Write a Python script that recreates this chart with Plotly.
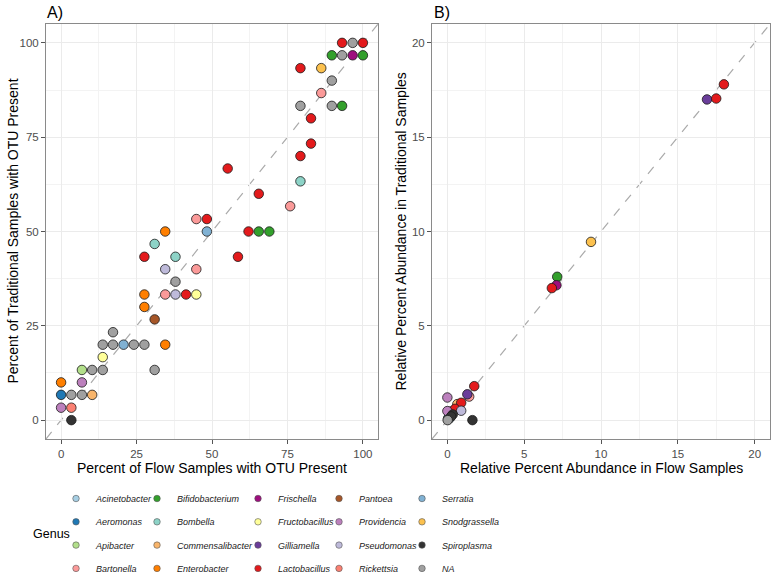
import plotly.graph_objects as go

# ---------------- data ----------------
genus_order = ["Acinetobacter", "Aeromonas", "Apibacter", "Bartonella",
               "Bifidobacterium", "Bombella", "Commensalibacter", "Enterobacter",
               "Frischella", "Fructobacillus", "Gilliamella", "Lactobacillus",
               "Pantoea", "Providencia", "Pseudomonas", "Rickettsia",
               "Serratia", "Snodgrassella", "Spiroplasma", "NA"]
genus_colors = ["#A6CEE3", "#1F78B4", "#B2DF8A", "#FB9A99",
                "#33A02C", "#8DD3C7", "#F9B56B", "#FF7F00",
                "#9E0E7E", "#FFFF99", "#6A3D9A", "#E31A1C",
                "#A65628", "#BC80BD", "#BEBADA", "#FB8072",
                "#80B1D3", "#FCC14E", "#333333", "#A0A0A0"]

# Panel A: percent of samples with OTU present
a_genus = ["Enterobacter", "Aeromonas", "NA", "NA", "Commensalibacter", "Providencia",
           "Rickettsia", "Spiroplasma", "Apibacter", "NA", "NA", "Providencia",
           "Fructobacillus", "NA", "NA", "Serratia", "NA", "NA", "Enterobacter", "NA",
           "NA", "Pantoea", "Enterobacter", "Enterobacter", "Bartonella", "Pseudomonas",
           "Lactobacillus", "Fructobacillus", "NA", "Pseudomonas", "Bartonella",
           "Lactobacillus", "Bombella", "Lactobacillus", "Bombella", "Enterobacter",
           "Serratia", "Lactobacillus", "Bifidobacterium", "Bifidobacterium",
           "Bartonella", "Lactobacillus", "Bartonella", "Lactobacillus", "Lactobacillus",
           "Bombella", "Lactobacillus", "Lactobacillus", "Lactobacillus", "NA", "NA",
           "Bifidobacterium", "Bartonella", "NA", "Lactobacillus", "Snodgrassella",
           "Bifidobacterium", "NA", "Frischella", "Bifidobacterium", "Lactobacillus",
           "NA", "Lactobacillus"]
a_flow = [0, 0, 3.4, 6.9, 10.3, 0,
          3.4, 3.4, 6.9, 10.3, 13.8, 6.9,
          13.8, 13.8, 17.2, 20.7, 24.1, 27.6, 34.5, 17.2,
          31.0, 31.0, 27.6, 27.6, 34.5, 37.9,
          41.4, 44.8, 37.9, 34.5, 44.8,
          27.6, 37.9, 58.6, 31.0, 34.5,
          48.3, 62.1, 65.5, 69.0,
          44.8, 48.3, 75.9, 55.2, 65.5,
          79.3, 79.3, 82.8, 82.8, 79.3, 89.7,
          93.1, 86.2, 89.7, 79.3, 86.2,
          89.7, 93.1, 96.6, 100, 93.1,
          96.6, 100]
a_trad = [10, 6.7, 6.7, 6.7, 6.7, 3.3,
          3.3, 0, 13.3, 13.3, 13.3, 10,
          16.7, 20, 20, 20, 20, 20, 20, 23.3,
          13.3, 26.7, 30, 33.3, 33.3, 33.3,
          33.3, 33.3, 36.7, 40, 40,
          43.3, 43.3, 43.3, 46.7, 50,
          50, 50, 50, 50,
          53.3, 53.3, 56.7, 66.7, 60,
          63.3, 70, 73.3, 80, 83.3, 83.3,
          83.3, 86.7, 90, 93.3, 93.3,
          96.7, 96.7, 96.7, 96.7, 100,
          100, 100]

# Panel B: relative percent abundance
b_genus = ["Gilliamella", "Lactobacillus", "Lactobacillus", "Snodgrassella",
           "Lactobacillus", "Frischella", "Bifidobacterium", "Lactobacillus",
           "Gilliamella", "Bartonella", "Providencia", "Commensalibacter",
           "Lactobacillus", "Lactobacillus", "Pseudomonas", "Providencia",
           "Bartonella", "Spiroplasma", "Spiroplasma", "Spiroplasma", "Bombella",
           "Aeromonas", "Serratia", "Acinetobacter", "NA"]
b_flow = [16.9, 17.5, 18.0, 9.35,
          6.8, 7.1, 7.15, 1.75,
          1.3, 1.42, 0.0, 0.65,
          0.9, 0.5, 0.9, 0.0,
          0.25, 1.63, 0.35, 0.25, 0.1,
          0.05, 0.15, 0.05, 0.02]
b_trad = [17.0, 17.05, 17.8, 9.45,
          7.0, 7.15, 7.6, 1.8,
          1.37, 1.25, 1.2, 0.85,
          0.92, 0.6, 0.5, 0.48,
          0.46, 0.0, 0.3, 0.2, 0.15,
          0.08, 0.1, 0.05, 0.0]

a_ticks = [0, 25, 50, 75, 100]
b_ticks = [0, 5, 10, 15, 20]
a_range = [-5, 105]
b_range = [-1, 21]

# ---------------- figure ----------------
W, H = 772, 574
FONT = "Liberation Sans, Arial, Helvetica, sans-serif"

fig = go.Figure()
color_of = dict(zip(genus_order, genus_colors))

def add_panel(genus_list, xs, ys, xa, ya):
    for g in genus_order:
        px = [x for gg, x in zip(genus_list, xs) if gg == g]
        py = [y for gg, y in zip(genus_list, ys) if gg == g]
        if not px:
            continue
        fig.add_trace(go.Scatter(
            x=px, y=py, mode="markers", xaxis=xa, yaxis=ya, showlegend=False,
            marker=dict(size=9.5, color=color_of[g], line=dict(color="#1a1a1a", width=0.8)),
            name=g, hoverinfo="x+y+name"))

add_panel(a_genus, a_flow, a_trad, "x", "y")
add_panel(b_genus, b_flow, b_trad, "x2", "y2")

# legend-only entries (5 columns, column-major)
for i, g in enumerate(genus_order):
    col = i // 4
    fig.add_trace(go.Scatter(
        x=[None], y=[None], mode="markers", xaxis="x", yaxis="y",
        name=g, legend="legend" if col == 0 else f"legend{col + 1}",
        legendgroup=g, showlegend=True,
        marker=dict(size=6.5, color=genus_colors[i], line=dict(color="#555555", width=0.6))))

# dashed identity lines spanning each panel
for xa, ya, r in (("x", "y", a_range), ("x2", "y2", b_range)):
    fig.add_shape(type="line", xref=xa, yref=ya, x0=r[0], y0=r[0], x1=r[1], y1=r[1],
                  line=dict(color="#AAAAAA", width=1.2, dash="dash"), layer="below")

def axis(domain, rng, ticks, anchor, minor_step):
    return dict(domain=domain, range=rng, anchor=anchor, tickvals=ticks,
                ticktext=[str(t) for t in ticks], showgrid=True, gridcolor="#EBEBEB",
                gridwidth=1, zeroline=False, showline=True, linecolor="#8A8A8A",
                linewidth=1, mirror=True, ticks="outside", ticklen=4, tickwidth=1,
                tickcolor="#555555", tickfont=dict(family=FONT, size=11.5, color="#4D4D4D"),
                ticklabeloverflow="allow", automargin=False,
                minor=dict(tick0=minor_step, dtick=2 * minor_step, showgrid=True,
                           gridcolor="#F3F3F3", gridwidth=0.6, ticks=""))

ytop = 1 - 24 / H
ybot = 1 - 439 / H
ax_a = [46 / W, 378 / W]
ax_b = [432 / W, 770 / W]

legend_marker_x = [76, 157, 258, 339, 422]
legend_common = dict(orientation="v", yanchor="top", xanchor="left",
                     y=1 - 484 / H, bgcolor="rgba(0,0,0,0)", tracegroupgap=4.3,
                     font=dict(family=FONT, size=9.0, color="#1a1a1a", style="italic"))
legends = {}
for c, mx in enumerate(legend_marker_x):
    key = "legend" if c == 0 else f"legend{c + 1}"
    legends[key] = dict(legend_common, x=(mx - 20) / W)

fig.update_layout(
    width=W, height=H, margin=dict(l=0, r=0, t=0, b=0, autoexpand=False),
    paper_bgcolor="white", plot_bgcolor="white",
    font=dict(family=FONT, color="#000000"),
    xaxis=axis(ax_a, a_range, a_ticks, "y", 12.5),
    yaxis=axis([ybot, ytop], a_range, a_ticks, "x", 12.5),
    xaxis2=axis(ax_b, b_range, b_ticks, "y2", 2.5),
    yaxis2=axis([ybot, ytop], b_range, b_ticks, "x2", 2.5),
    **legends,
)

ann = [
    dict(text="A)", x=45 / W, y=1 - 12 / H, xanchor="left", font_size=16),
    dict(text="B)", x=432 / W, y=1 - 12 / H, xanchor="left", font_size=16),
    dict(text="Percent of Flow Samples with OTU Present", x=212 / W, y=1 - 468 / H, font_size=14),
    dict(text="Percent of Traditional Samples with OTU Present", x=12 / W, y=1 - 231.5 / H,
         textangle=-90, font_size=14),
    dict(text="Relative Percent Abundance in Flow Samples", x=601 / W, y=1 - 468 / H, font_size=14),
    dict(text="Relative Percent Abundance in Traditional Samples", x=400 / W, y=1 - 231.5 / H,
         textangle=-90, font_size=14),
    dict(text="Genus", x=51 / W, y=1 - 534 / H, font_size=12.5),
]
for a in ann:
    fs = a.pop("font_size")
    fig.add_annotation(xref="paper", yref="paper", showarrow=False,
                       font=dict(family=FONT, size=fs, color="#000000"),
                       xanchor=a.pop("xanchor", "center"), yanchor="middle", **a)

fig.write_html("out.html", config={"displayModeBar": False},
               post_script="document.body.style.margin='0';document.body.style.overflow='hidden';")
